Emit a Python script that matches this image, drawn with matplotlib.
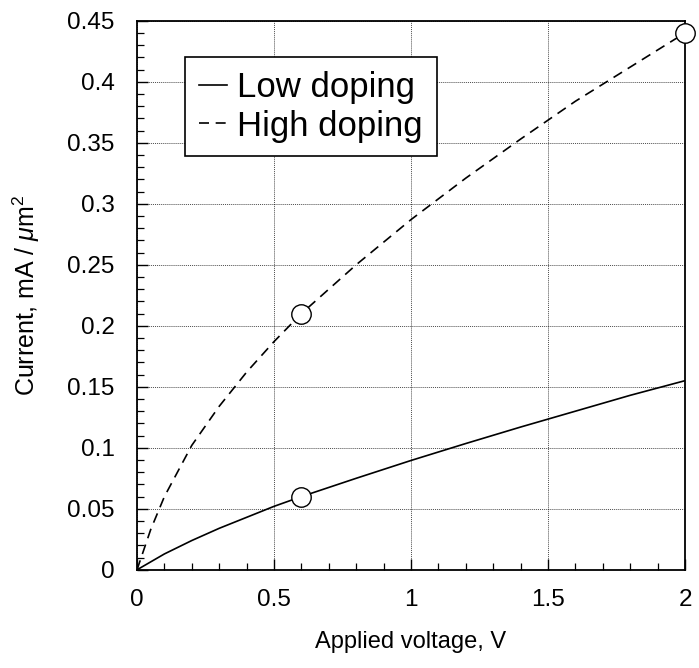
import matplotlib
matplotlib.use('Agg')
import matplotlib.pyplot as plt
from matplotlib.ticker import MultipleLocator

# data
low_x = [0, 0.1, 0.2, 0.3, 0.4, 0.5, 0.6, 0.8, 1.0, 1.2, 1.4, 1.6, 1.8, 2.0]
low_y = [0, 0.013, 0.024, 0.034, 0.043, 0.052, 0.060, 0.075, 0.0896, 0.1035, 0.117, 0.130, 0.143, 0.155]

high_x = [0, 0.05, 0.1, 0.2, 0.3, 0.4, 0.5, 0.6, 0.8, 1.0, 1.2, 1.4, 1.6, 1.8, 2.0]
high_y = [0, 0.033, 0.060, 0.102, 0.134, 0.162, 0.187, 0.210, 0.250, 0.287, 0.321, 0.353, 0.384, 0.412, 0.440]

marker_x = [0.6, 0.6, 2.0]
marker_y = [0.060, 0.210, 0.440]

x_ticks = [0, 0.5, 1, 1.5, 2]
x_ticklabels = ['0', '0.5', '1', '1.5', '2']
y_ticks = [0, 0.05, 0.1, 0.15, 0.2, 0.25, 0.3, 0.35, 0.4, 0.45]
y_ticklabels = ['0', '0.05', '0.1', '0.15', '0.2', '0.25', '0.3', '0.35', '0.4', '0.45']


def set_plot_style():
    plt.rcParams['font.family'] = ['Liberation Sans', 'DejaVu Sans']
    plt.rcParams['mathtext.fontset'] = 'custom'
    plt.rcParams['mathtext.rm'] = 'Liberation Sans'
    plt.rcParams['mathtext.it'] = 'Liberation Sans:italic'
    plt.rcParams['axes.linewidth'] = 1.3


set_plot_style()

fig = plt.figure(figsize=(6.99, 6.68), dpi=100)
ax = fig.add_axes([0.196, 0.147, 0.784, 0.822])

ax.plot(low_x, low_y, '-', color='black', linewidth=1.2, label='Low doping')
ax.plot(high_x, high_y, color='black', linewidth=1.2, linestyle=(0, (6, 4)),
        label='High doping')
ax.plot(marker_x, marker_y, 'o', markersize=14, markerfacecolor='white',
        markeredgecolor='black', markeredgewidth=1.0, clip_on=False, zorder=5)

ax.set_xlim(0, 2)
ax.set_ylim(0, 0.45)
ax.set_xticks(x_ticks)
ax.set_xticklabels(x_ticklabels)
ax.set_yticks(y_ticks)
ax.set_yticklabels(y_ticklabels)
ax.xaxis.set_minor_locator(MultipleLocator(0.1))
ax.yaxis.set_minor_locator(MultipleLocator(0.01))
ax.tick_params(which='major', direction='in', length=8, width=1.0,
               labelsize=17.5, top=False, right=False)
ax.tick_params(axis='x', which='major', pad=14)
ax.tick_params(axis='y', which='major', pad=16)
ax.tick_params(which='minor', direction='in', length=5, width=0.9,
               top=False, right=False)

ax.grid(True, which='major', color='black', linestyle=(0, (1, 1)),
        linewidth=0.7, alpha=0.7)

ax.set_xlabel('Applied voltage, V', fontsize=17, labelpad=14)
ax.set_ylabel(r'Current, mA / $\mu$m$^2$', fontsize=18, labelpad=18)

leg = ax.legend(loc='upper left', bbox_to_anchor=(0.088, 0.933),
                borderaxespad=0, fontsize=25, handlelength=0.8,
                handletextpad=0.3, labelspacing=0.15, borderpad=0.4,
                fancybox=False, framealpha=1, edgecolor='black')
leg.get_frame().set_linewidth(1.2)

fig.savefig('out.png', dpi=100)
plt.close(fig)
